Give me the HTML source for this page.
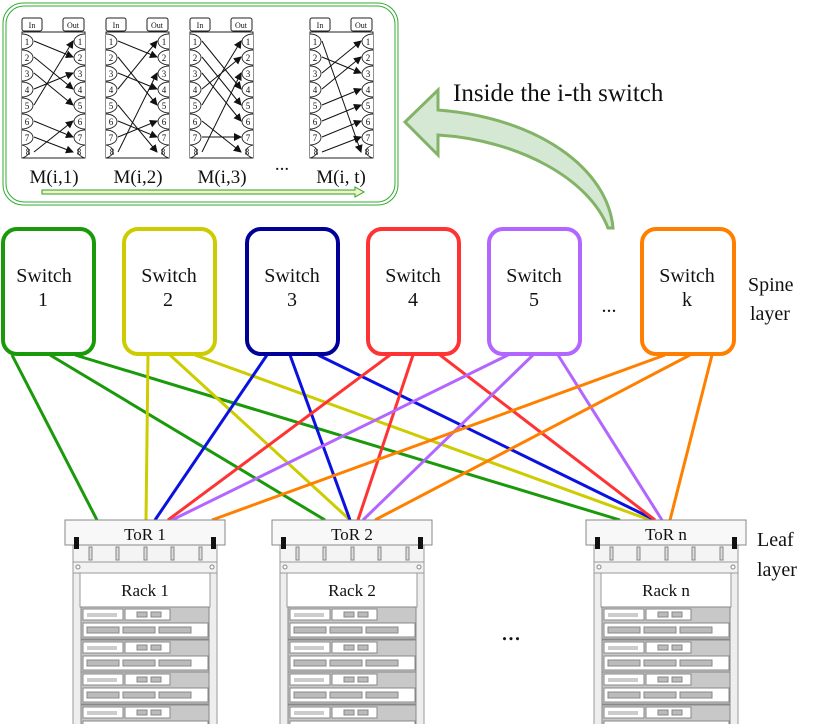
<!DOCTYPE html>
<html><head><meta charset="utf-8"><style>
html,body{margin:0;padding:0;background:#fff}
svg{display:block}
text{font-family:"Liberation Serif","Times New Roman",serif;fill:#111}
</style></head><body>
<svg width="831" height="724" viewBox="0 0 831 724" xmlns="http://www.w3.org/2000/svg" font-family="Liberation Serif, serif">
<defs>
<marker id="ah" markerWidth="8" markerHeight="8" refX="7" refY="4" orient="auto" markerUnits="userSpaceOnUse"><path d="M0,0 L8,4 L0,8 z" fill="#111"/></marker>
<g id="unit">
<rect x="16" y="0" width="128" height="32" fill="#c8c8c8" stroke="#888"/>
<rect x="18" y="2" width="40" height="11" fill="#fff" stroke="#888"/>
<rect x="22" y="6" width="30" height="4" fill="#ccc"/>
<rect x="60" y="2" width="45" height="11" fill="#fff" stroke="#888"/>
<rect x="72" y="5" width="10" height="5" fill="#bbb" stroke="#888"/>
<rect x="86" y="5" width="10" height="5" fill="#bbb" stroke="#888"/>
<rect x="18" y="16" width="125" height="14" fill="#fff" stroke="#888"/>
<rect x="22" y="20" width="32" height="6" fill="#bbb" stroke="#888"/>
<rect x="58" y="20" width="32" height="6" fill="#bbb" stroke="#888"/>
<rect x="94" y="20" width="32" height="6" fill="#bbb" stroke="#888"/>
</g>
<g id="rack">
<rect x="8" y="25" width="144" height="180" fill="#eee" stroke="#999"/>
<rect x="8" y="25" width="144" height="17" fill="#f4f4f4" stroke="#999"/>
<rect x="24" y="27" width="3" height="13" fill="#ddd" stroke="#888"/>
<rect x="51" y="27" width="3" height="13" fill="#ddd" stroke="#888"/>
<rect x="79" y="27" width="3" height="13" fill="#ddd" stroke="#888"/>
<rect x="106" y="27" width="3" height="13" fill="#ddd" stroke="#888"/>
<rect x="134" y="27" width="3" height="13" fill="#ddd" stroke="#888"/>
<rect x="8" y="42" width="144" height="11" fill="#f2f2f2" stroke="#999"/>
<circle cx="13" cy="47" r="2" fill="#fff" stroke="#888"/>
<circle cx="147" cy="47" r="2" fill="#fff" stroke="#888"/>
<rect x="15" y="53" width="130" height="34" fill="#fff" stroke="#999"/>
<use href="#unit" y="87"/>
<use href="#unit" y="120"/>
<use href="#unit" y="152"/>
<use href="#unit" y="185"/>
<rect x="0" y="0" width="160" height="25" fill="#f8f8f8" stroke="#888"/>
<rect x="9" y="17" width="5" height="12" fill="#111"/>
<rect x="146" y="17" width="5" height="12" fill="#111"/>
</g>
</defs>

<rect x="3" y="3" width="395" height="202" rx="20" fill="none" stroke="#3a3" stroke-width="1"/>
<rect x="6" y="6" width="389" height="196" rx="18" fill="none" stroke="#3a3" stroke-width="1"/>

<g stroke="#222" stroke-width="1" fill="#fff">
<rect x="22" y="18" width="20" height="13" rx="2"/><rect x="63" y="18" width="21" height="13" rx="2"/><rect x="22" y="32" width="63" height="126"/>
<rect x="106" y="18" width="20" height="13" rx="2"/><rect x="147" y="18" width="21" height="13" rx="2"/><rect x="106" y="32" width="63" height="126"/>
<rect x="190" y="18" width="20" height="13" rx="2"/><rect x="231" y="18" width="21" height="13" rx="2"/><rect x="190" y="32" width="63" height="126"/>
<rect x="310" y="18" width="20" height="13" rx="2"/><rect x="351" y="18" width="21" height="13" rx="2"/><rect x="310" y="32" width="63" height="126"/>
</g>
<g font-size="8" text-anchor="middle">
<text x="32" y="28">In</text><text x="73" y="28">Out</text>
<text x="116" y="28">In</text><text x="157" y="28">Out</text>
<text x="200" y="28">In</text><text x="241" y="28">Out</text>
<text x="320" y="28">In</text><text x="361" y="28">Out</text>
</g>
<g stroke="#222" fill="#fff" stroke-width="0.9">
<g id="ell">
<path d="M22,34 a11,7.5 0 0 1 0,15"/><path d="M22,50 a11,7.5 0 0 1 0,15"/><path d="M22,66 a11,7.5 0 0 1 0,15"/><path d="M22,82 a11,7.5 0 0 1 0,15"/><path d="M22,98 a11,7.5 0 0 1 0,15"/><path d="M22,114 a11,7.5 0 0 1 0,15"/><path d="M22,130 a11,7.5 0 0 1 0,15"/><path d="M22,145 a11,7 0 0 1 0,13"/>
<path d="M85,34 a11,7.5 0 0 0 0,15"/><path d="M85,50 a11,7.5 0 0 0 0,15"/><path d="M85,66 a11,7.5 0 0 0 0,15"/><path d="M85,82 a11,7.5 0 0 0 0,15"/><path d="M85,98 a11,7.5 0 0 0 0,15"/><path d="M85,114 a11,7.5 0 0 0 0,15"/><path d="M85,130 a11,7.5 0 0 0 0,15"/><path d="M85,145 a11,7 0 0 0 0,13"/>
</g>
<use href="#ell" x="84"/><use href="#ell" x="168"/><use href="#ell" x="288"/>
</g>
<g font-size="9" text-anchor="middle">
<text x="27" y="45">1</text><text x="27" y="61">2</text><text x="27" y="77">3</text><text x="27" y="93">4</text><text x="27" y="109">5</text><text x="27" y="125">6</text><text x="27" y="141">7</text><text x="28" y="155">8</text>
<text x="80" y="45">1</text><text x="80" y="61">2</text><text x="80" y="77">3</text><text x="80" y="93">4</text><text x="80" y="109">5</text><text x="80" y="125">6</text><text x="80" y="141">7</text><text x="79" y="155">8</text>
<text x="111" y="45">1</text><text x="111" y="61">2</text><text x="111" y="77">3</text><text x="111" y="93">4</text><text x="111" y="109">5</text><text x="111" y="125">6</text><text x="111" y="141">7</text><text x="112" y="155">8</text>
<text x="164" y="45">1</text><text x="164" y="61">2</text><text x="164" y="77">3</text><text x="164" y="93">4</text><text x="164" y="109">5</text><text x="164" y="125">6</text><text x="164" y="141">7</text><text x="163" y="155">8</text>
<text x="195" y="45">1</text><text x="195" y="61">2</text><text x="195" y="77">3</text><text x="195" y="93">4</text><text x="195" y="109">5</text><text x="195" y="125">6</text><text x="195" y="141">7</text><text x="196" y="155">8</text>
<text x="248" y="45">1</text><text x="248" y="61">2</text><text x="248" y="77">3</text><text x="248" y="93">4</text><text x="248" y="109">5</text><text x="248" y="125">6</text><text x="248" y="141">7</text><text x="247" y="155">8</text>
<text x="315" y="45">1</text><text x="315" y="61">2</text><text x="315" y="77">3</text><text x="315" y="93">4</text><text x="315" y="109">5</text><text x="315" y="125">6</text><text x="315" y="141">7</text><text x="316" y="155">8</text>
<text x="368" y="45">1</text><text x="368" y="61">2</text><text x="368" y="77">3</text><text x="368" y="93">4</text><text x="368" y="109">5</text><text x="368" y="125">6</text><text x="368" y="141">7</text><text x="367" y="155">8</text>
</g>
<g stroke="#111" stroke-width="1" marker-end="url(#ah)">
<line x1="34" y1="41" x2="73" y2="57"/><line x1="34" y1="57" x2="73" y2="89"/><line x1="34" y1="73" x2="73" y2="105"/><line x1="34" y1="89" x2="73" y2="73"/><line x1="34" y1="105" x2="73" y2="41"/><line x1="34" y1="121" x2="73" y2="137"/><line x1="34" y1="137" x2="73" y2="152"/><line x1="34" y1="152" x2="73" y2="121"/>
<line x1="118" y1="41" x2="157" y2="57"/><line x1="118" y1="57" x2="157" y2="105"/><line x1="118" y1="73" x2="157" y2="89"/><line x1="118" y1="89" x2="157" y2="41"/><line x1="118" y1="105" x2="157" y2="152"/><line x1="118" y1="121" x2="157" y2="137"/><line x1="118" y1="137" x2="157" y2="121"/><line x1="118" y1="152" x2="157" y2="73"/>
<line x1="202" y1="41" x2="241" y2="89"/><line x1="202" y1="57" x2="241" y2="105"/><line x1="202" y1="73" x2="241" y2="121"/><line x1="202" y1="89" x2="241" y2="57"/><line x1="202" y1="105" x2="241" y2="41"/><line x1="202" y1="121" x2="241" y2="152"/><line x1="202" y1="137" x2="241" y2="137"/><line x1="202" y1="152" x2="241" y2="73"/>
<line x1="322" y1="41" x2="361" y2="152"/><line x1="322" y1="57" x2="361" y2="73"/><line x1="322" y1="73" x2="361" y2="41"/><line x1="322" y1="89" x2="361" y2="57"/><line x1="322" y1="105" x2="361" y2="89"/><line x1="322" y1="121" x2="361" y2="105"/><line x1="322" y1="137" x2="361" y2="121"/><line x1="322" y1="152" x2="361" y2="137"/>
</g>
<g font-size="19" text-anchor="middle">
<text x="54" y="183">M(i,1)</text><text x="138" y="183">M(i,2)</text><text x="222" y="183">M(i,3)</text><text x="341" y="183">M(i, t)</text>
<text x="282" y="170">...</text>
</g>
<path d="M42,190 L355,190 L355,187 L364,192 L355,197 L355,194 L42,194 z" fill="#f7efc8" stroke="#2a2" stroke-width="1"/>

<path d="M613,228 C608,170 540,118 438,110 L438,90 L405,122 L438,155 L438,135 C520,140 590,180 608,228 z" fill="#d5e8d4" stroke="#82b366" stroke-width="3"/>
<text x="453" y="101" font-size="25">Inside the i-th switch</text>

<g stroke-width="3" fill="none">
<g stroke="#1a9a0a"><line x1="12" y1="355" x2="97" y2="520"/><line x1="50" y1="355" x2="325" y2="520"/><line x1="75" y1="355" x2="620" y2="520"/></g>
<g stroke="#cccc00"><line x1="148" y1="355" x2="146" y2="520"/><line x1="170" y1="355" x2="350" y2="520"/><line x1="195" y1="355" x2="650" y2="520"/></g>
<g stroke="#0a12e0"><line x1="267" y1="355" x2="155" y2="520"/><line x1="290" y1="355" x2="350" y2="520"/><line x1="318" y1="355" x2="655" y2="520"/></g>
<g stroke="#ff3333"><line x1="390" y1="355" x2="168" y2="520"/><line x1="413" y1="355" x2="358" y2="520"/><line x1="440" y1="355" x2="655" y2="520"/></g>
<g stroke="#b266ff"><line x1="508" y1="355" x2="172" y2="520"/><line x1="533" y1="355" x2="363" y2="520"/><line x1="558" y1="355" x2="662" y2="520"/></g>
<g stroke="#ff8000"><line x1="665" y1="355" x2="212" y2="520"/><line x1="690" y1="355" x2="375" y2="520"/><line x1="712" y1="355" x2="670" y2="520"/></g>
</g>

<g fill="#fff" stroke-width="4">
<rect x="3" y="229" width="91" height="125" rx="14" stroke="#1a9a0a"/>
<rect x="124" y="229" width="91" height="125" rx="14" stroke="#cccc00"/>
<rect x="247" y="229" width="91" height="125" rx="14" stroke="#000099"/>
<rect x="368" y="229" width="91" height="125" rx="14" stroke="#ff3333"/>
<rect x="489" y="229" width="91" height="125" rx="14" stroke="#b266ff"/>
<rect x="642" y="229" width="92" height="125" rx="14" stroke="#ff8000"/>
</g>
<g font-size="20" text-anchor="middle">
<text x="44" y="282">Switch</text><text x="43" y="306">1</text>
<text x="169" y="282">Switch</text><text x="168" y="306">2</text>
<text x="292" y="282">Switch</text><text x="292" y="306">3</text>
<text x="413" y="282">Switch</text><text x="413" y="306">4</text>
<text x="534" y="282">Switch</text><text x="534" y="306">5</text>
<text x="687" y="282">Switch</text><text x="687" y="306">k</text>
<text x="609" y="312">...</text>
</g>
<g font-size="20">
<text x="748" y="291">Spine</text><text x="750" y="320">layer</text>
<text x="757" y="546">Leaf</text><text x="757" y="576">layer</text>
</g>

<use href="#rack" x="65" y="520"/>
<use href="#rack" x="272" y="520"/>
<use href="#rack" x="586" y="520"/>
<g font-size="17" text-anchor="middle">
<text x="145" y="540">ToR 1</text><text x="352" y="540">ToR 2</text><text x="666" y="540">ToR n</text>
<text x="145" y="596">Rack 1</text><text x="352" y="596">Rack 2</text><text x="666" y="596">Rack n</text>
</g>
<text x="511" y="640" font-size="26" text-anchor="middle">...</text>
</svg>
</body></html>
